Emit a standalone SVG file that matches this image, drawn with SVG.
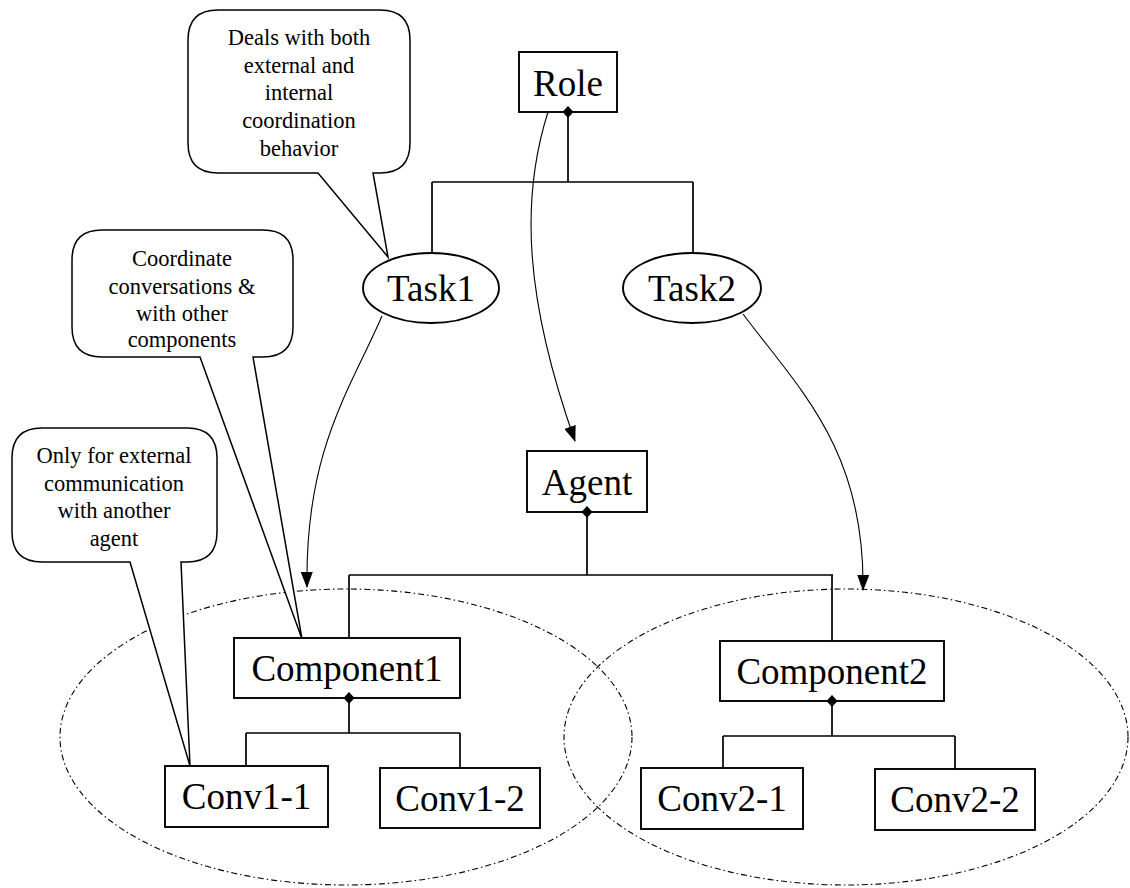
<svg xmlns="http://www.w3.org/2000/svg" width="1130" height="888" viewBox="0 0 1130 888">
<style>
.box{fill:#fff;stroke:#000;stroke-width:1.9}
.lbl{font-family:"Liberation Serif","Times New Roman",serif;font-size:37px;fill:#000;text-anchor:middle}
.note{font-family:"Liberation Serif","Times New Roman",serif;font-size:22.5px;fill:#000;text-anchor:middle}
.call{fill:#fff;stroke:#000;stroke-width:1.5}
.tree{fill:none;stroke:#000;stroke-width:1.7}
.curve{fill:none;stroke:#000;stroke-width:1.1}
.grp{fill:none;stroke:#000;stroke-width:1.1;stroke-dasharray:6 3 1.5 3}
.dia{fill:#000}
</style>
<defs>
<marker id="arrow" markerWidth="16" markerHeight="12" refX="15" refY="6" orient="auto" markerUnits="userSpaceOnUse" viewBox="0 0 16 12">
<path d="M0,0 L16,6 L0,12 Z" fill="#000"/>
</marker>
</defs>

<g id="groups">
<ellipse class="grp" cx="346" cy="737" rx="286" ry="148"/>
<ellipse class="grp" cx="846" cy="737" rx="282" ry="148"/>
</g>

<g id="connectors">
<path class="tree" d="M568,112 V182 M432,182 H693 M432,182 V253 M693,182 V254"/>
<path class="tree" d="M587,512 V575 M349,575 H833 M349,575 V638 M832,575 V641"/>
<path class="tree" d="M349,698 V733 M246,733 H460 M246,733 V766 M460,733 V768"/>
<path class="tree" d="M832,701 V736 M723,736 H955 M723,736 V768 M955,736 V769"/>
<path class="curve" d="M548,112 C520,200 525,300 575,441" marker-end="url(#arrow)"/>
<path class="curve" d="M382,316 C350,390 305,450 307,587" marker-end="url(#arrow)"/>
<path class="curve" d="M743,314 C800,390 865,450 863,590" marker-end="url(#arrow)"/>
</g>

<g id="callout-deals">
<path class="call" d="M218,10 H380 Q410,10 410,40 V143 Q410,173 380,173 H373 L388,257 L318,173 H218 Q188,173 188,143 V40 Q188,10 218,10 Z"/>
<text class="note" x="299" y="45">Deals with both</text>
<text class="note" x="299" y="73">external and</text>
<text class="note" x="299" y="100">internal</text>
<text class="note" x="299" y="128">coordination</text>
<text class="note" x="299" y="156">behavior</text>
</g>

<g id="callout-coordinate">
<path class="call" d="M102,230 H263 Q293,230 293,260 V327 Q293,357 263,357 H253 L302,639 L200,357 H102 Q72,357 72,327 V260 Q72,230 102,230 Z"/>
<text class="note" x="182" y="266">Coordinate</text>
<text class="note" x="182" y="294">conversations &amp;</text>
<text class="note" x="182" y="321">with other</text>
<text class="note" x="182" y="347">components</text>
</g>

<g id="callout-only">
<path class="call" d="M42,428 H187 Q217,428 217,458 V532 Q217,562 187,562 H181 L190,766 L130,562 H42 Q12,562 12,532 V458 Q12,428 42,428 Z"/>
<text class="note" x="114" y="463">Only for external</text>
<text class="note" x="114" y="491">communication</text>
<text class="note" x="114" y="518">with another</text>
<text class="note" x="114" y="546">agent</text>
</g>

<g id="role">
<rect class="box" x="519" y="52" width="98" height="60"/>
<text class="lbl" x="568" y="96">Role</text>
<path class="dia" d="M568,106 L573.5,112 L568,118 L562.5,112 Z"/>
</g>

<g id="task1">
<ellipse class="box" cx="431" cy="288" rx="68" ry="35"/>
<text class="lbl" x="431" y="301">Task1</text>
</g>

<g id="task2">
<ellipse class="box" cx="692" cy="288" rx="69" ry="35"/>
<text class="lbl" x="692" y="301">Task2</text>
</g>

<g id="agent">
<rect class="box" x="527" y="451" width="120" height="61"/>
<text class="lbl" x="587" y="495">Agent</text>
<path class="dia" d="M587,506 L592.5,512 L587,518 L581.5,512 Z"/>
</g>

<g id="component1">
<rect class="box" x="234" y="638" width="226" height="60"/>
<text class="lbl" x="347" y="681">Component1</text>
<path class="dia" d="M349,692 L354.5,698 L349,704 L343.5,698 Z"/>
</g>

<g id="component2">
<rect class="box" x="720" y="641" width="224" height="60"/>
<text class="lbl" x="832" y="684">Component2</text>
<path class="dia" d="M832,695 L837.5,701 L832,707 L826.5,701 Z"/>
</g>

<g id="conv1-1">
<rect class="box" x="165" y="766" width="163" height="61"/>
<text class="lbl" x="246.5" y="809">Conv1-1</text>
</g>

<g id="conv1-2">
<rect class="box" x="380" y="768" width="160" height="60"/>
<text class="lbl" x="460" y="811">Conv1-2</text>
</g>

<g id="conv2-1">
<rect class="box" x="641" y="768" width="162" height="61"/>
<text class="lbl" x="722" y="811">Conv2-1</text>
</g>

<g id="conv2-2">
<rect class="box" x="875" y="769" width="160" height="61"/>
<text class="lbl" x="955" y="812">Conv2-2</text>
</g>
</svg>
